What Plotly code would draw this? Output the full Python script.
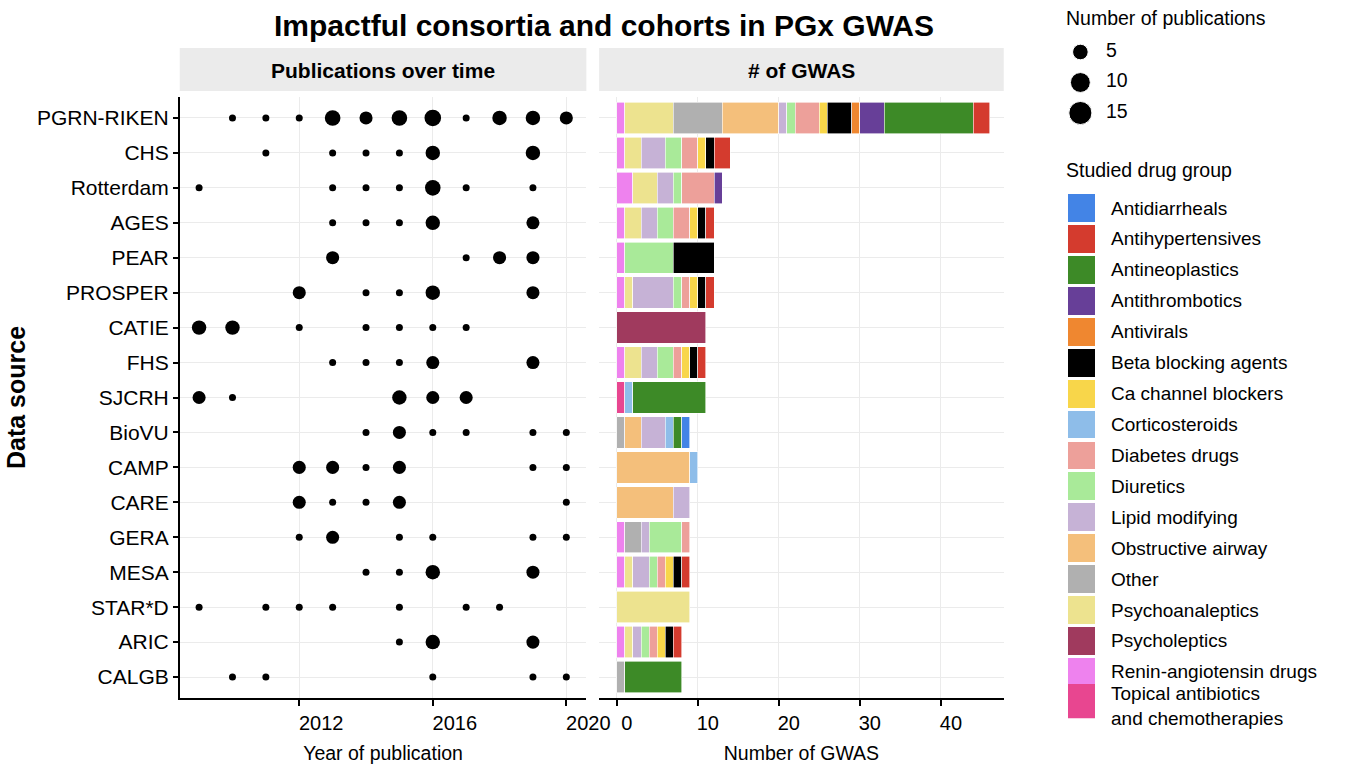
import math
import plotly.graph_objects as go

W, H = 1345, 768
FONT = "Liberation Sans, Arial, Helvetica, sans-serif"

# ---------------- data ----------------
sources = ["PGRN-RIKEN", "CHS", "Rotterdam", "AGES", "PEAR", "PROSPER", "CATIE", "FHS",
           "SJCRH", "BioVU", "CAMP", "CARE", "GERA", "MESA", "STAR*D", "ARIC", "CALGB"]

# publications over time (long format)
pub_source = (["PGRN-RIKEN"] * 11 + ["CHS"] * 6 + ["Rotterdam"] * 7 + ["AGES"] * 5 +
              ["PEAR"] * 4 + ["PROSPER"] * 5 + ["CATIE"] * 7 + ["FHS"] * 5 + ["SJCRH"] * 5 +
              ["BioVU"] * 6 + ["CAMP"] * 6 + ["CARE"] * 5 + ["GERA"] * 6 + ["MESA"] * 4 +
              ["STAR*D"] * 7 + ["ARIC"] * 3 + ["CALGB"] * 5)
pub_year = [2010, 2011, 2012, 2013, 2014, 2015, 2016, 2017, 2018, 2019, 2020,
            2011, 2013, 2014, 2015, 2016, 2019,
            2009, 2013, 2014, 2015, 2016, 2017, 2019,
            2013, 2014, 2015, 2016, 2019,
            2013, 2017, 2018, 2019,
            2012, 2014, 2015, 2016, 2019,
            2009, 2010, 2012, 2014, 2015, 2016, 2017,
            2013, 2014, 2015, 2016, 2019,
            2009, 2010, 2015, 2016, 2017,
            2014, 2015, 2016, 2017, 2019, 2020,
            2012, 2013, 2014, 2015, 2019, 2020,
            2012, 2013, 2014, 2015, 2020,
            2012, 2013, 2015, 2016, 2019, 2020,
            2014, 2015, 2016, 2019,
            2009, 2011, 2012, 2013, 2015, 2017, 2018,
            2015, 2016, 2019,
            2010, 2011, 2016, 2019, 2020]
pub_count = [1, 1, 1, 5, 3, 5, 6, 1, 4, 4, 3,
             1, 1, 1, 1, 4, 4,
             1, 1, 1, 1, 5, 1, 1,
             1, 1, 1, 4, 3,
             3, 1, 3, 3,
             3, 1, 1, 4, 3,
             4, 4, 1, 1, 1, 1, 1,
             1, 1, 1, 3, 3,
             3, 1, 4, 3, 3,
             1, 3, 1, 1, 1, 1,
             3, 3, 1, 3, 1, 1,
             3, 1, 1, 3, 1,
             1, 3, 1, 1, 1, 1,
             1, 1, 4, 3,
             1, 1, 1, 1, 1, 1, 1,
             1, 4, 3,
             1, 1, 1, 1, 1]
size_breaks = [5, 10, 15]
year_ticks = [2012, 2016, 2020]
gwas_ticks = [0, 10, 20, 30, 40]

# number of GWAS per drug group (aligned with `sources`)
drug_groups = ["Antidiarrheals", "Antihypertensives", "Antineoplastics", "Antithrombotics",
               "Antivirals", "Beta blocking agents", "Ca channel blockers", "Corticosteroids",
               "Diabetes drugs", "Diuretics", "Lipid modifying", "Obstructive airway", "Other",
               "Psychoanaleptics", "Psycholeptics", "Renin-angiotensin drugs",
               "Topical antibiotics and chemotherapies"]
drug_labels = drug_groups[:-1] + ["Topical antibiotics<br>and chemotherapies"]
drug_colors = ["#4384E6", "#D43B2E", "#3D8A27", "#673F98", "#EF8730", "#000000", "#F8D64A",
               "#8EBDE9", "#EDA09A", "#A9EA99", "#C6B2D6", "#F4BF7B", "#B0B0B0", "#EDE38F",
               "#A03A5E", "#EE82EE", "#E84690"]
antidiarrheals    = [0, 0, 0, 0, 0, 0, 0, 0, 0, 1, 0, 0, 0, 0, 0, 0, 0]
antihypertensives = [2, 2, 0, 1, 0, 1, 0, 1, 0, 0, 0, 0, 0, 1, 0, 1, 0]
antineoplastics   = [11, 0, 0, 0, 0, 0, 0, 0, 9, 1, 0, 0, 0, 0, 0, 0, 7]
antithrombotics   = [3, 0, 1, 0, 0, 0, 0, 0, 0, 0, 0, 0, 0, 0, 0, 0, 0]
antivirals        = [1, 0, 0, 0, 0, 0, 0, 0, 0, 0, 0, 0, 0, 0, 0, 0, 0]
beta_blockers     = [3, 1, 0, 1, 5, 1, 0, 1, 0, 0, 0, 0, 0, 1, 0, 1, 0]
ca_blockers       = [1, 1, 0, 1, 0, 1, 0, 1, 0, 0, 0, 0, 0, 1, 0, 1, 0]
corticosteroids   = [0, 0, 0, 0, 0, 0, 0, 0, 1, 1, 1, 0, 0, 0, 0, 0, 0]
diabetes_drugs    = [3, 2, 4, 2, 0, 1, 0, 1, 0, 0, 0, 0, 1, 1, 0, 1, 0]
diuretics         = [1, 2, 1, 2, 6, 1, 0, 2, 0, 0, 0, 0, 4, 1, 0, 1, 0]
lipid_modifying   = [1, 3, 2, 2, 0, 5, 0, 2, 0, 3, 0, 2, 1, 2, 0, 1, 0]
obstructive_airway= [7, 0, 0, 0, 0, 0, 0, 0, 0, 2, 9, 7, 0, 0, 0, 0, 0]
other             = [6, 0, 0, 0, 0, 0, 0, 0, 0, 1, 0, 0, 2, 0, 0, 0, 1]
psychoanaleptics  = [6, 2, 3, 2, 0, 1, 0, 2, 0, 0, 0, 0, 0, 1, 9, 1, 0]
psycholeptics     = [0, 0, 0, 0, 0, 0, 11, 0, 0, 0, 0, 0, 0, 0, 0, 0, 0]
renin_angiotensin = [1, 1, 2, 1, 1, 1, 0, 1, 0, 0, 0, 0, 1, 1, 0, 1, 0]
topical           = [0, 0, 0, 0, 0, 0, 0, 0, 1, 0, 0, 0, 0, 0, 0, 0, 0]
gwas_values = [antidiarrheals, antihypertensives, antineoplastics, antithrombotics, antivirals,
               beta_blockers, ca_blockers, corticosteroids, diabetes_drugs, diuretics,
               lipid_modifying, obstructive_airway, other, psychoanaleptics, psycholeptics,
               renin_angiotensin, topical]


# ---------------- helpers ----------------
def px_x(x):
    return x / W


def px_y(y):
    return 1 - y / H


def dot_size(n):
    # area-type size scale (diameter in px)
    return 7 + 4.3 * math.sqrt(max(n - 1, 0))


fig = go.Figure()

# dot plot
fig.add_trace(go.Scatter(
    x=pub_year, y=pub_source, mode="markers", xaxis="x", yaxis="y",
    marker=dict(color="black", opacity=1, size=[dot_size(v) for v in pub_count],
                line=dict(width=0)),
    showlegend=False, hoverinfo="x+y+text", text=[str(v) for v in pub_count]))

# stacked bars (stacked in reverse legend order, as in the original)
for name, color, vals in reversed(list(zip(drug_groups, drug_colors, gwas_values))):
    xs = [v for v in vals if v > 0]
    ys = [s for s, v in zip(sources, vals) if v > 0]
    fig.add_trace(go.Bar(
        x=xs, y=ys, orientation="h", name=name, xaxis="x2", yaxis="y2",
        marker=dict(color=color, line=dict(color="white", width=0.6)),
        width=0.9, showlegend=False))

# size legend
fig.add_trace(go.Scatter(
    x=[17] * len(size_breaks), y=[str(b) for b in size_breaks], mode="markers",
    xaxis="x3", yaxis="y3",
    marker=dict(color="black", opacity=1, size=[dot_size(b) for b in size_breaks]),
    showlegend=False, hoverinfo="skip"))
fig.add_trace(go.Scatter(
    x=[43] * len(size_breaks), y=[str(b) for b in size_breaks], mode="text",
    text=[str(b) for b in size_breaks], textposition="middle right",
    textfont=dict(size=19.5, color="black", family=FONT),
    xaxis="x3", yaxis="y3", showlegend=False, hoverinfo="skip"))

# drug group legend swatches
fig.add_trace(go.Bar(
    x=[28] * len(drug_groups), y=drug_groups, orientation="h", xaxis="x4", yaxis="y4",
    marker=dict(color=drug_colors, line=dict(width=0)),
    width=[0.9] * (len(drug_groups) - 1) + [1.23], showlegend=False, hoverinfo="skip"))
for grp, lab in zip(drug_groups, drug_labels):
    multi = "<br>" in lab
    fig.add_annotation(
        text=lab, xref="x4", yref="y4", x=42, y=grp, xanchor="left", yanchor="middle",
        align="left", showarrow=False, yshift=-3 if multi else 0,
        font=dict(size=19, color="black", family=FONT))

panel_y = [px_y(698), px_y(97)]
cat_order = list(reversed(sources))
grid = "#EBEBEB"

fig.update_layout(
    height=H, autosize=True, margin=dict(l=0, r=0, t=0, b=0),
    plot_bgcolor="white", paper_bgcolor="white", barmode="stack", bargap=0.1,
    font=dict(family=FONT, size=20, color="black"), showlegend=False,
    title=dict(text="Impactful consortia and cohorts in PGx GWAS", x=px_x(604), y=px_y(25),
               xanchor="center", yanchor="middle",
               font=dict(size=30, family=FONT, color="black", weight="bold")),
    xaxis=dict(domain=[px_x(183), px_x(597)], anchor="y", range=[2008.42, 2020.6],
               tickmode="array", tickvals=year_ticks, ticktext=[str(t) for t in year_ticks],
               showgrid=True, gridcolor=grid, gridwidth=1.3, zeroline=False,
               showline=True, linecolor="black", linewidth=1.6,
               ticks="outside", ticklen=6, tickwidth=1.5, tickcolor="black",
               ticklabelshift=22, tickfont=dict(size=20, color="black"),
               title=dict(text="Year of publication", standoff=14, font=dict(size=19.5))),
    yaxis=dict(domain=panel_y, anchor="x", type="category", categoryorder="array",
               categoryarray=cat_order, range=[-0.6, len(sources) - 0.4],
               showgrid=True, gridcolor=grid, gridwidth=1.3, zeroline=False,
               showline=True, linecolor="black", linewidth=1.6,
               ticks="outside", ticklen=5, tickwidth=1.5, tickcolor="black",
               tickfont=dict(size=21, color="black"),
               title=dict(text="<b>Data source</b>", standoff=4, font=dict(size=25))),
    xaxis2=dict(domain=[px_x(610), px_x(1022)], anchor="y2", range=[-2.18, 47.76],
                tickmode="array", tickvals=gwas_ticks, ticktext=[str(t) for t in gwas_ticks],
                showgrid=True, gridcolor=grid, gridwidth=1.3, zeroline=False,
                showline=True, linecolor="black", linewidth=1.6,
                ticks="outside", ticklen=6, tickwidth=1.5, tickcolor="black",
                ticklabelshift=10, tickfont=dict(size=20, color="black"),
                title=dict(text="Number of GWAS", standoff=14, font=dict(size=19.5))),
    yaxis2=dict(domain=panel_y, anchor="x2", type="category", categoryorder="array",
                categoryarray=cat_order, range=[-0.6, len(sources) - 0.4],
                showgrid=True, gridcolor=grid, gridwidth=1.3, zeroline=False,
                showline=False, ticks="", showticklabels=False),
    xaxis3=dict(domain=[px_x(1083), 1.0], anchor="y3", range=[0, 262], visible=False,
                fixedrange=True),
    yaxis3=dict(domain=[px_y(128.25), px_y(36.75)], anchor="x3", type="category",
                categoryorder="array", categoryarray=[str(b) for b in reversed(size_breaks)],
                range=[-0.5, 2.5], visible=False, fixedrange=True),
    xaxis4=dict(domain=[px_x(1087), 1.0], anchor="y4", range=[0, 258], visible=False,
                fixedrange=True),
    yaxis4=dict(domain=[px_y(718.3), px_y(192.6)], anchor="x4", type="category",
                categoryorder="array", categoryarray=list(reversed(drug_groups)),
                range=[-0.5, len(drug_groups) - 0.5], visible=False, fixedrange=True),
)

# facet strips
for x0, x1, label in [(183, 597, "Publications over time"), (610, 1022, "# of GWAS")]:
    fig.add_shape(type="rect", xref="paper", yref="paper", x0=px_x(x0), x1=px_x(x1),
                  y0=px_y(91), y1=px_y(48), fillcolor="#EBEBEB", line=dict(width=0),
                  layer="below")
    fig.add_annotation(text=label, xref="paper", yref="paper", x=px_x((x0 + x1) / 2),
                       y=px_y(70), xanchor="center", yanchor="middle", showarrow=False,
                       font=dict(size=21, color="black", family=FONT, weight="bold"))

# legend titles
for y, label in [(18, "Number of publications"), (170, "Studied drug group")]:
    fig.add_annotation(text=label, xref="paper", yref="paper", x=px_x(1083), y=px_y(y),
                       xanchor="left", yanchor="middle", showarrow=False,
                       font=dict(size=19.5, color="black", family=FONT))

# remove the default body margin and fit the figure to the full window width at once
post = ("document.body.style.margin='0';document.body.style.overflow='hidden';"
        "var gd=document.getElementById('{plot_id}');"
        "Plotly.relayout(gd,{width:window.innerWidth,height:768});")
fig.write_html("out.html", config={"displayModeBar": False},
               default_width="100%", default_height="768px", post_script=post)
